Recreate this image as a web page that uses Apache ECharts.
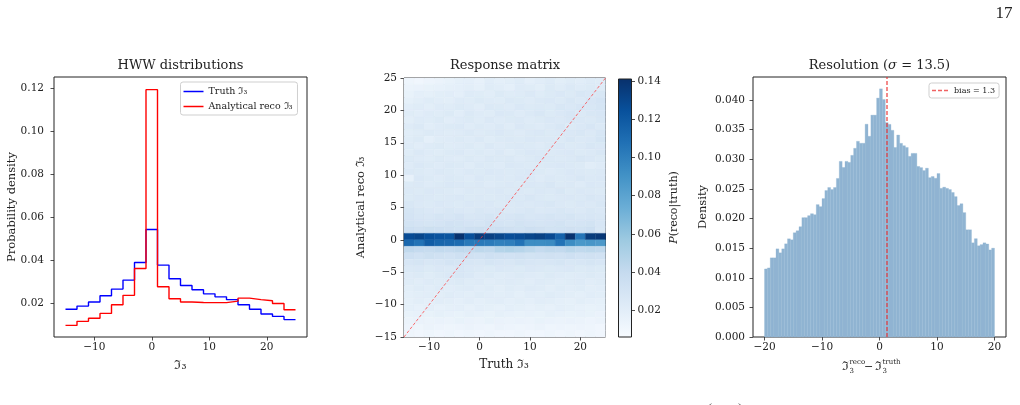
<!DOCTYPE html>
<html>
<head>
<meta charset="utf-8">
<script src="https://cdn.jsdelivr.net/npm/echarts@6/dist/echarts.min.js"></script>
<style>
html, body { margin: 0; padding: 0; background: #fff; }
#chart { width: 1020px; height: 405px; }
</style>
</head>
<body>
<div id="chart"></div>
<script>
// ---- HWW distributions (bin edges, width 2) ----
const hwwEdges = [-15, -13, -11, -9, -7, -5, -3, -1, 1, 3, 5, 7, 9, 11, 13, 15, 17, 19, 21, 23, 25];
const truthDensity = [0.0171, 0.0186, 0.0205, 0.0234, 0.0265, 0.0307, 0.0389, 0.0543, 0.0377, 0.0313,
                      0.0282, 0.0262, 0.0243, 0.0229, 0.0216, 0.0192, 0.0171, 0.0149, 0.0138, 0.0123];
const recoDensity  = [0.0096, 0.0115, 0.0129, 0.0152, 0.0192, 0.0236, 0.0361, 0.1194, 0.0276, 0.0220,
                      0.0205, 0.0203, 0.0202, 0.0202, 0.0209, 0.0223, 0.0216, 0.0211, 0.0198, 0.0169];
const hwwXTicks = [-10, 0, 10, 20];
const hwwYTicks = [0.02, 0.04, 0.06, 0.08, 0.10, 0.12];

// ---- Response matrix P(reco|truth), in units of 1e-3 ----
const truthEdges = [-15, -13, -11, -9, -7, -5, -3, -1, 1, 3, 5, 7, 9, 11, 13, 15, 17, 19, 21, 23, 25];
const recoEdges = [-15, -14, -13, -12, -11, -10, -9, -8, -7, -6, -5, -4, -3, -2, -1, 0, 1, 2, 3, 4, 5,
                   6, 7, 8, 9, 10, 11, 12, 13, 14, 15, 16, 17, 18, 19, 20, 21, 22, 23, 24, 25];
// first row = reco 24..25, last row = reco -15..-14
const responseRows = [
  [12,11,13,14,16,18,19,17,21,19,20,22,19,21,23,20,22,21,23,22],
  [14,15,16,17,18,19,20,18,22,21,19,23,22,20,24,22,25,23,24,23],
  [16,19,18,20,21,19,23,22,21,24,22,23,25,22,24,26,24,27,26,27],
  [18,20,22,21,20,23,22,24,23,22,25,24,23,25,26,24,27,25,28,30],
  [21,22,20,23,22,24,23,21,25,24,23,26,24,25,24,27,26,28,27,29],
  [22,21,23,22,24,21,25,23,22,26,25,23,25,27,24,26,28,25,27,28],
  [20,23,22,24,21,23,24,22,25,23,24,25,23,24,26,25,27,26,25,27],
  [23,25,21,23,24,25,22,24,23,25,22,26,24,23,25,27,24,26,28,25],
  [21,22,24,23,22,23,25,23,24,26,24,23,25,26,24,25,26,27,25,28],
  [22,24,19,22,23,24,23,25,22,24,25,24,26,25,25,24,27,25,26,29],
  [23,21,23,24,22,23,24,22,25,23,24,25,24,23,25,26,24,25,27,26],
  [22,25,23,22,24,25,23,24,23,25,22,24,26,25,24,25,26,24,25,27],
  [24,23,22,24,23,22,24,23,25,24,25,23,24,26,25,24,25,27,26,24],
  [23,26,24,23,25,24,22,25,24,23,26,25,24,24,25,26,25,24,21,23],
  [25,24,23,25,24,23,25,24,26,25,24,25,26,24,23,24,26,25,24,25],
  [17,26,24,23,25,24,23,26,24,25,24,26,25,23,25,24,25,27,25,26],
  [24,25,23,24,26,25,24,25,23,24,25,24,26,25,27,24,25,23,26,25],
  [25,24,26,25,24,23,25,24,25,26,24,25,24,26,25,27,24,26,25,24],
  [24,26,25,24,25,26,24,25,24,25,26,25,27,25,24,25,26,25,27,26],
  [27,25,24,26,25,24,26,25,26,24,25,26,25,26,27,25,24,26,25,27],
  [29,27,26,25,27,26,25,27,26,27,25,26,27,25,26,27,26,25,27,26],
  [30,28,27,29,28,30,27,28,29,27,28,29,27,28,29,28,29,27,28,27],
  [31,30,29,30,32,31,30,29,31,30,29,31,30,29,30,31,29,30,31,28],
  [34,33,35,34,33,32,34,35,33,34,33,32,34,33,31,32,33,32,34,27],
  [127,130,125,123,122,140,125,135,133,130,126,127,130,132,128,115,140,105,135,137],
  [112,106,118,113,112,110,103,103,102,99,100,106,93,93,94,106,93,87,88,86],
  [42,40,39,41,40,42,41,43,42,47,48,46,43,40,42,41,44,42,43,42],
  [34,32,35,33,32,34,33,32,34,33,32,33,31,32,33,32,34,32,33,32],
  [28,29,27,28,30,29,28,27,29,28,27,29,28,27,28,29,27,28,29,28],
  [25,26,24,26,25,27,26,25,24,26,25,24,26,25,24,25,26,24,25,24],
  [23,24,22,24,26,27,26,23,24,22,23,24,23,22,24,23,22,23,24,23],
  [22,21,23,22,23,24,22,23,21,22,23,22,21,23,22,21,22,23,21,22],
  [20,22,21,23,21,22,23,21,22,20,22,21,23,22,20,22,21,22,20,21],
  [19,20,21,20,22,21,20,22,21,20,21,19,21,20,22,21,20,19,21,20],
  [18,20,19,21,20,19,21,19,20,21,19,20,19,21,20,19,18,20,19,18],
  [18,17,19,17,18,19,17,19,18,17,19,18,17,18,17,19,18,17,16,17],
  [16,17,16,18,17,16,18,17,16,18,17,16,17,16,18,17,16,17,16,15],
  [14,15,14,15,14,16,15,14,16,15,14,15,14,16,15,14,15,14,13,14],
  [13,12,14,13,12,13,14,13,12,14,13,12,13,14,12,13,12,13,12,11],
  [12,11,12,11,12,11,12,11,12,11,11,12,11,11,12,11,12,11,12,11]
];
const respTicks = [-15, -10, -5, 0, 5, 10, 15, 20, 25];
const respXTicks = [-10, 0, 10, 20];
const diagX = [-15, 25];
const colorMin = 0.006, colorMax = 0.141;
const cbTicks = [0.02, 0.04, 0.06, 0.08, 0.10, 0.12, 0.14];

// ---- Resolution histogram (bins of 0.5 from -20 to 20) ----
const resStart = -20, resWidth = 0.5;
const resDensity = [
  0.01149, 0.01166, 0.01336, 0.01336, 0.01488, 0.01421, 0.01488, 0.01573, 0.01658, 0.01641,
  0.01760, 0.01794, 0.01862, 0.02015, 0.02015, 0.02049, 0.02082, 0.02065, 0.02235, 0.02201,
  0.02337, 0.02473, 0.02524, 0.02490, 0.02524, 0.02677, 0.02965, 0.02863, 0.02965, 0.02948,
  0.03067, 0.03186, 0.03304, 0.03271, 0.03271, 0.03593, 0.03389, 0.03746, 0.03746, 0.04034,
  0.04190, 0.04010, 0.03620, 0.03590, 0.03490, 0.03200, 0.03410, 0.03270, 0.03230, 0.03200,
  0.03050, 0.03100, 0.03100, 0.02880, 0.02860, 0.02810, 0.02850, 0.02690, 0.02710, 0.02680,
  0.02760, 0.02510, 0.02530, 0.02510, 0.02490, 0.02440, 0.02370, 0.02220, 0.02250, 0.02100,
  0.01810, 0.01810, 0.01590, 0.01660, 0.01540, 0.01560, 0.01590, 0.01570, 0.01470, 0.01500
];
const biasValue = 1.3;
const resXTicks = [-20, -10, 0, 10, 20];
const resYTicks = [0, 0.005, 0.010, 0.015, 0.020, 0.025, 0.030, 0.035, 0.040];

// ---------------------------------------------------------------
const font = 'DejaVu Serif';
const ink = '#222';
const blues = ['#f7fbff', '#deebf7', '#c6dbef', '#9ecae1', '#6baed6', '#4292c6', '#2171b5', '#08519c', '#08306b'];
const biasColor = 'rgba(235,45,45,0.75)';

const minus = s => s.replace('-', '\u2212');
const fmt2 = v => minus(v.toFixed(2));
const fmt3 = v => minus(v.toFixed(3));
const fmtInt = v => minus(String(Math.round(v)));

function valAxis(gridIndex, min, max, ticks, formatter, margin, extra) {
  return Object.assign({
    type: 'value', gridIndex: gridIndex, min: min, max: max,
    axisLine: { show: false, onZero: false },
    splitLine: { show: false },
    axisTick: { show: true, length: 3.5, customValues: ticks, lineStyle: { color: ink, width: 0.8 } },
    axisLabel: { customValues: ticks, formatter: formatter, fontFamily: font, fontSize: 10.5, color: ink, margin: margin }
  }, extra || {});
}

const truthLine = hwwEdges.map((e, i) => [e, truthDensity[Math.min(i, truthDensity.length - 1)]]);
const recoLine = hwwEdges.map((e, i) => [e, recoDensity[Math.min(i, recoDensity.length - 1)]]);

const respCells = [];
responseRows.forEach((row, r) => {
  const k = recoEdges.length - 2 - r;
  row.forEach((v, c) => {
    respCells.push([truthEdges[c], recoEdges[k], v / 1000, truthEdges[c + 1], recoEdges[k + 1]]);
  });
});

const resBars = resDensity.map((v, i) => [resStart + i * resWidth, v, resStart + (i + 1) * resWidth]);

const gridBox = { show: true, borderColor: ink, borderWidth: 1, backgroundColor: 'transparent' };
const legendBox = { borderColor: '#cfcfcf', borderWidth: 1, borderRadius: 2.5, backgroundColor: 'rgba(255,255,255,0.8)' };
const solidIcon = 'path://M0,0H20V1.5H0Z';
const dashIcon = 'path://M0,0H4V1.5H0Z M6,0H10V1.5H6Z M12,0H16V1.5H12Z';

const txt = (x, y, text, size, extra) => ({
  type: 'text', x: x, y: y, rotation: (extra && extra.rotation) || 0,
  style: Object.assign({ text: text, fontFamily: font, fontSize: size, fill: ink, align: 'center', verticalAlign: 'middle' },
    (extra && extra.style) || {})
});

const option = {
  animation: false,
  backgroundColor: '#fff',
  grid: [
    Object.assign({ left: 54, top: 77, width: 253, height: 260 }, gridBox),
    Object.assign({ left: 404, top: 78, width: 201.5, height: 259 }, gridBox),
    Object.assign({ left: 753, top: 77, width: 253, height: 260 }, gridBox),
    { show: true, left: 618.5, top: 79, width: 13, height: 258, borderColor: ink, borderWidth: 1,
      backgroundColor: new echarts.graphic.LinearGradient(0, 1, 0, 0,
        blues.map((c, i) => ({ offset: i / (blues.length - 1), color: c }))) }
  ],
  xAxis: [
    valAxis(0, -17, 27, hwwXTicks, fmtInt, 5),
    valAxis(1, -15, 25, respXTicks, fmtInt, 5),
    valAxis(2, -22, 22, resXTicks, fmtInt, 5),
    { type: 'value', gridIndex: 3, min: 0, max: 1, show: false }
  ],
  yAxis: [
    valAxis(0, 0.0042, 0.1253, hwwYTicks, fmt2, 10),
    valAxis(1, -15, 25, respTicks, fmtInt, 7),
    valAxis(2, 0, 0.0439, resYTicks, fmt3, 8),
    valAxis(3, colorMin, colorMax, cbTicks, fmt2, 6, { position: 'right' })
  ],
  visualMap: {
    show: false, type: 'continuous', seriesIndex: 2, dimension: 2,
    min: colorMin, max: colorMax, inRange: { color: blues }
  },
  legend: [
    Object.assign({
      orient: 'vertical', left: 180.5, top: 82, padding: [4, 5, 3, 3], itemGap: 4,
      itemWidth: 20, itemHeight: 1.5,
      textStyle: { fontFamily: font, fontSize: 9.5, color: ink, lineHeight: 11 },
      data: [{ name: 'Truth \u2111\u2083', icon: solidIcon }, { name: 'Analytical reco \u2111\u2083', icon: solidIcon }]
    }, legendBox),
    Object.assign({
      orient: 'vertical', left: 929, top: 83, padding: [3, 4, 3, 3], itemWidth: 18, itemHeight: 1.5,
      textStyle: { fontFamily: font, fontSize: 8, color: ink, lineHeight: 9 },
      data: [{ name: 'bias = 1.3', icon: dashIcon }]
    }, legendBox)
  ],
  series: [
    {
      name: 'Truth \u2111\u2083', type: 'line', xAxisIndex: 0, yAxisIndex: 0, step: 'end',
      symbol: 'none', data: truthLine, lineStyle: { color: '#0000ff', width: 1.4 }, itemStyle: { color: '#0000ff' }
    },
    {
      name: 'Analytical reco \u2111\u2083', type: 'line', xAxisIndex: 0, yAxisIndex: 0, step: 'end',
      symbol: 'none', data: recoLine, lineStyle: { color: '#ff0000', width: 1.4 }, itemStyle: { color: '#ff0000' }
    },
    {
      type: 'custom', xAxisIndex: 1, yAxisIndex: 1, data: respCells,
      encode: { x: [0, 3], y: [1, 4] },
      renderItem: function (params, api) {
        const p0 = api.coord([api.value(0), api.value(4)]);
        const p1 = api.coord([api.value(3), api.value(1)]);
        const col = api.visual('color');
        return {
          type: 'rect',
          shape: { x: p0[0], y: p0[1], width: p1[0] - p0[0], height: p1[1] - p0[1] },
          style: { fill: col, stroke: col, lineWidth: 0.4 }
        };
      }
    },
    {
      type: 'line', xAxisIndex: 1, yAxisIndex: 1, symbol: 'none', z: 5,
      data: diagX.map(v => [v, v]),
      lineStyle: { color: 'rgba(255,50,50,0.7)', width: 1, type: [3, 2] }
    },
    {
      type: 'custom', xAxisIndex: 2, yAxisIndex: 2, data: resBars,
      encode: { x: [0, 2], y: 1 },
      renderItem: function (params, api) {
        const p0 = api.coord([api.value(0), api.value(1)]);
        const p1 = api.coord([api.value(2), 0]);
        return {
          type: 'rect',
          shape: { x: p0[0], y: p0[1], width: p1[0] - p0[0], height: p1[1] - p0[1] },
          style: { fill: '#90b4d2', stroke: '#90b4d2', lineWidth: 0.3 }
        };
      }
    },
    {
      name: 'bias = 1.3', type: 'line', xAxisIndex: 2, yAxisIndex: 2, symbol: 'none', data: [],
      lineStyle: { color: biasColor, width: 1.5, type: [4, 2] },
      itemStyle: { color: biasColor },
      markLine: {
        silent: true, symbol: 'none', label: { show: false },
        lineStyle: { color: biasColor, width: 1.5, type: [4, 2] },
        data: [{ xAxis: biasValue }]
      }
    }
  ],
  graphic: [
    txt(1004, 14, '17', 17, { style: { fontFamily: 'Liberation Serif' } }),
    txt(725, 402, '(\u2003\u2003)', 13, { style: { fontFamily: 'Liberation Serif', verticalAlign: 'top', fill: '#444' } }),
    // titles
    txt(180.5, 66, 'HWW distributions', 13),
    txt(505, 66, 'Response matrix', 13),
    txt(879.5, 66, 'Resolution ({i|\u03c3}{n| = 13.5})', 13, { style: {
      rich: { i: { fontFamily: font, fontSize: 13, fontStyle: 'italic', fill: ink }, n: { fontFamily: font, fontSize: 13, fill: ink } } } }),
    // y labels
    txt(12, 207, 'Probability density', 11.5, { rotation: Math.PI / 2 }),
    txt(361.5, 207.5, 'Analytical reco \u2111\u2083', 11.5, { rotation: Math.PI / 2 }),
    txt(703, 207, 'Density', 11.5, { rotation: Math.PI / 2 }),
    txt(674, 207.5, '{i|P}(reco|truth)', 11, { rotation: Math.PI / 2, style: {
      rich: { i: { fontFamily: font, fontSize: 11, fontStyle: 'italic', fill: ink } } } }),
    // x labels
    txt(180.5, 366, '\u2111\u2083', 12.5),
    txt(504, 365, 'Truth \u2111\u2083', 12),
    txt(842, 367, '\u2111', 12, { style: { align: 'left' } }),
    txt(849.5, 362, 'reco', 7, { style: { align: 'left' } }),
    txt(849.5, 371, '3', 7, { style: { align: 'left' } }),
    txt(868.5, 367, '\u2212', 11, {}),
    txt(875, 367, '\u2111', 12, { style: { align: 'left' } }),
    txt(882.5, 362, 'truth', 7, { style: { align: 'left' } }),
    txt(882.5, 371, '3', 7, { style: { align: 'left' } })
  ]
};

const chart = echarts.init(document.getElementById('chart'));
chart.setOption(option);
</script>
</body>
</html>
